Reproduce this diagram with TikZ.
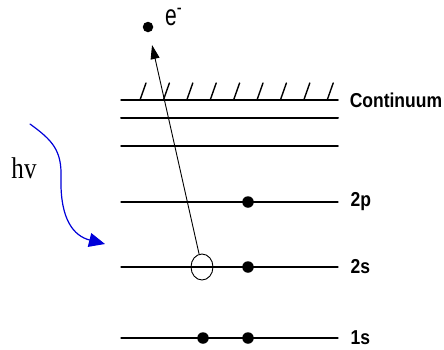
\documentclass[tikz,border=0pt]{standalone}
\usepackage{fontspec}
\usepackage{tikz}
\usetikzlibrary{arrows.meta, shapes.geometric}
\newfontfamily\labfont{Liberation Sans}
\newfontfamily\hvfont{Liberation Serif}

\begin{document}
\begin{tikzpicture}[x=1pt, y=-1pt, line join=round, line cap=round,
	level/.style={line width=1.3pt},
	dotel/.style={circle, fill=black, inner sep=0pt, minimum size=11.5pt},
	hole/.style={ellipse, draw, line width=0.9pt, inner sep=0pt, minimum width=22pt, minimum height=26pt},
	lab/.style={right, inner sep=0pt, font=\labfont\bfseries\fontsize{17.5}{19}\selectfont, yscale=1.15}]
	\useasboundingbox (0,0) rectangle (444,349);

	% Các mức năng lượng
	\draw[level, line width=1.5pt] (121,100) -- (338,100) node[lab, xshift=11pt] {Continuum};
	\draw[level, line width=2pt] (121,118) -- (338,118);
	\draw[level, line width=1.5pt] (121,146) -- (338,146);
	\draw[level] (121,202) -- (338,202) node[lab, xshift=12pt] {2p};
	\draw[level] (121,267) -- (338,267) node[lab, xshift=12pt] {2s};
	\draw[level] (121,338) -- (338,338) node[lab, xshift=12pt] {1s};

	% Gạch chéo vùng liên tục
	\foreach \i in {0,...,8} {
		\draw[line width=1.4pt] ({140+23.4*\i},100) -- ({146+23.4*\i},83);
	}

	% Electron và lỗ trống
	\node[dotel] (e2p) at (248,202) {};
	\node[dotel] (e2s) at (248,267) {};
	\node[dotel] (e1sa) at (203,338) {};
	\node[dotel] (e1sb) at (248,338) {};
	\node[hole] (hole) at (202,267) {};
	\node[dotel, minimum size=10.5pt] (free) at (148,27) {};
	\node[right, inner sep=0pt, font=\labfont\fontsize{21}{22}\selectfont, yscale=1.4] (elab) at (165,17) {e\textsuperscript{-}};

	% Mũi tên quang ion hóa
	\draw[-{Triangle[length=14pt, width=9pt]}, line width=0.9pt, shorten >=13pt] (hole) -- (free);

	% Photon tới
	\node[font=\hvfont\fontsize{25}{26}\selectfont, yscale=1.2] (hv) at (24,168) {hv};
	\draw[-{Triangle[length=16pt, width=14pt]}, blue!85!black, line width=1.2pt]
		(30,124) .. controls (52,140) and (62,150) .. (61,178)
		.. controls (60,220) and (74,236) .. (105,244);
\end{tikzpicture}
\end{document}
